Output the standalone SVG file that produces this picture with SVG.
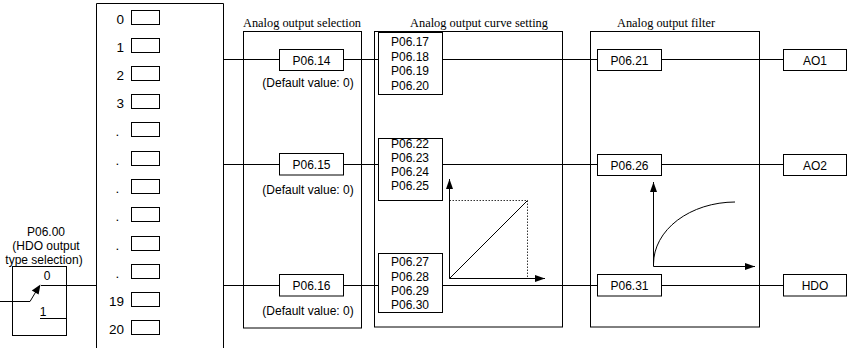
<svg xmlns="http://www.w3.org/2000/svg" width="848" height="348" viewBox="0 0 848 348">
<style>
.b{fill:#fff;stroke:#000;stroke-width:1}
.n{fill:none;stroke:#000;stroke-width:1}
.t{font-family:"Liberation Sans",Arial,sans-serif;font-size:12px;fill:#000}
.c{text-anchor:middle}
.d{font-family:"Liberation Sans",Arial,sans-serif;font-size:13.5px;fill:#000;text-anchor:end}
.dt{font-family:"Liberation Sans",Arial,sans-serif;font-size:13.5px;fill:#000}
.h{font-family:"Liberation Serif","Times New Roman",serif;font-size:12px;fill:#000}
.dot{fill:none;stroke:#000;stroke-width:0.8;stroke-dasharray:1.5 1.5}
</style>
<defs>
<marker id="arr" markerUnits="userSpaceOnUse" markerWidth="10" markerHeight="7" refX="10" refY="3.5" orient="auto">
<path d="M0,0 L10,3.5 L0,7 z" fill="#000"/>
</marker>
</defs>
<rect width="848" height="348" fill="#fff"/>

<g id="connectors">
<line class="n" x1="223" y1="59.5" x2="279" y2="59.5"/>
<line class="n" x1="343" y1="59.5" x2="378" y2="59.5"/>
<line class="n" x1="442" y1="59.5" x2="597" y2="59.5"/>
<line class="n" x1="661" y1="59.5" x2="783" y2="59.5"/>
<line class="n" x1="223" y1="164.5" x2="279" y2="164.5"/>
<line class="n" x1="343" y1="164.5" x2="378" y2="164.5"/>
<line class="n" x1="442" y1="164.5" x2="597" y2="164.5"/>
<line class="n" x1="661" y1="164.5" x2="783" y2="164.5"/>
<line class="n" x1="41" y1="285.5" x2="96" y2="285.5"/>
<line class="n" x1="223" y1="285.5" x2="279" y2="285.5"/>
<line class="n" x1="343" y1="285.5" x2="378" y2="285.5"/>
<line class="n" x1="442" y1="285.5" x2="597" y2="285.5"/>
<line class="n" x1="661" y1="285.5" x2="783" y2="285.5"/>
</g>

<g id="switch">
<text class="t c" x="46" y="235.5">P06.00</text>
<text class="t c" x="46" y="249.5">(HDO output</text>
<text class="t c" x="44" y="263.5">type selection)</text>
<rect class="n" x="12.5" y="266.5" width="54" height="69"/>
<text class="t c" x="47" y="279.5">0</text>
<text class="t c" x="43" y="315.5">1</text>
<line class="n" x1="40" y1="318.5" x2="67" y2="318.5"/>
<polyline class="n" points="0,301.5 30,301.5 36,291.5"/>
<polygon points="40.5,284.5 31.8,290.6 38.6,294.6" fill="#000"/>
</g>

<g id="source-list">
<path class="n" d="M96.5,348 V3.5 H223.5 V348"/>
<rect class="n" x="131.5" y="10.5" width="28" height="14"/>
<rect class="n" x="131.5" y="38.5" width="28" height="14"/>
<rect class="n" x="131.5" y="66.5" width="28" height="14"/>
<rect class="n" x="131.5" y="94.5" width="28" height="14"/>
<rect class="n" x="131.5" y="122.5" width="28" height="14"/>
<rect class="n" x="131.5" y="151.5" width="28" height="14"/>
<rect class="n" x="131.5" y="179.5" width="28" height="14"/>
<rect class="n" x="131.5" y="207.5" width="28" height="14"/>
<rect class="n" x="131.5" y="236.5" width="28" height="14"/>
<rect class="n" x="131.5" y="264.5" width="28" height="14"/>
<rect class="n" x="131.5" y="292.5" width="28" height="14"/>
<rect class="n" x="131.5" y="320.5" width="28" height="14"/>
<text class="d" x="124" y="23.5">0</text>
<text class="d" x="124" y="51.5">1</text>
<text class="d" x="124" y="79.5">2</text>
<text class="d" x="124" y="107.5">3</text>
<text class="dt" x="115.5" y="135.5">.</text>
<text class="dt" x="115.5" y="164.5">.</text>
<text class="dt" x="115.5" y="192.5">.</text>
<text class="dt" x="115.5" y="220.5">.</text>
<text class="dt" x="115.5" y="249.5">.</text>
<text class="dt" x="115.5" y="277.5">.</text>
<text class="d" x="124" y="305.5">19</text>
<text class="d" x="124" y="333.5">20</text>
</g>

<g id="selection">
<text class="h" x="243" y="27.3" textLength="118" lengthAdjust="spacingAndGlyphs">Analog output selection</text>
<rect class="n" x="243.5" y="31.5" width="118" height="296.5"/>
<rect class="b" x="279.5" y="49.5" width="64" height="21"/>
<text class="t c" x="311.5" y="64.5">P06.14</text>
<text class="t c" x="308" y="86.5">(Default value: 0)</text>
<rect class="b" x="279.5" y="153.5" width="64" height="21.5"/>
<text class="t c" x="311.5" y="168.5">P06.15</text>
<text class="t c" x="308" y="193.5">(Default value: 0)</text>
<rect class="b" x="279.5" y="274.5" width="64" height="21.5"/>
<text class="t c" x="311.5" y="289.5">P06.16</text>
<text class="t c" x="308" y="314.5">(Default value: 0)</text>
</g>

<g id="curve">
<text class="h" x="410" y="27.3" textLength="138" lengthAdjust="spacingAndGlyphs">Analog output curve setting</text>
<rect class="n" x="374.5" y="31.5" width="188" height="295.5"/>
<rect class="b" x="378.5" y="32.5" width="64" height="62"/>
<text class="t" x="391" y="46">P06.17</text>
<text class="t" x="391" y="60.5">P06.18</text>
<text class="t" x="391" y="75">P06.19</text>
<text class="t" x="391" y="89.5">P06.20</text>
<rect class="b" x="378.5" y="138.5" width="64" height="62"/>
<text class="t" x="391" y="147.5">P06.22</text>
<text class="t" x="391" y="161.5">P06.23</text>
<text class="t" x="391" y="175.5">P06.24</text>
<text class="t" x="391" y="190">P06.25</text>
<rect class="b" x="378.5" y="253.5" width="64" height="59"/>
<text class="t" x="391" y="266">P06.27</text>
<text class="t" x="391" y="280.5">P06.28</text>
<text class="t" x="391" y="295">P06.29</text>
<text class="t" x="391" y="309">P06.30</text>
<polyline class="dot" points="449.5,200.5 527.5,200.5 527.5,278"/>
<line class="n" x1="449.5" y1="278.5" x2="527.5" y2="200.5"/>
<line class="n" x1="449.5" y1="278.5" x2="449.5" y2="179" marker-end="url(#arr)"/>
<line class="n" x1="449.5" y1="278.5" x2="545" y2="278.5" marker-end="url(#arr)"/>
</g>

<g id="filter">
<text class="h" x="617" y="27.3" textLength="98" lengthAdjust="spacingAndGlyphs">Analog output filter</text>
<rect class="n" x="590.5" y="31.5" width="169" height="295.5"/>
<rect class="b" x="597.5" y="49.5" width="64" height="21"/>
<text class="t c" x="629.5" y="64.5">P06.21</text>
<rect class="b" x="597.5" y="154.5" width="64" height="21"/>
<text class="t c" x="629.5" y="169.5">P06.26</text>
<rect class="b" x="597.5" y="274.5" width="64" height="21.5"/>
<text class="t c" x="629.5" y="289.5">P06.31</text>
<path class="n" d="M653.5,264 A82,62 0 0 1 735,202"/>
<line class="n" x1="653.5" y1="266.5" x2="653.5" y2="182" marker-end="url(#arr)"/>
<line class="n" x1="653.5" y1="266.5" x2="755" y2="266.5" marker-end="url(#arr)"/>
</g>

<g id="out-ao1">
<rect class="b" x="783.5" y="49.5" width="63" height="21"/>
<text class="t c" x="815" y="64.5">AO1</text>
</g>
<g id="out-ao2">
<rect class="b" x="783.5" y="154.5" width="63" height="21"/>
<text class="t c" x="815" y="169.5">AO2</text>
</g>
<g id="out-hdo">
<rect class="b" x="783.5" y="274.5" width="63" height="21.5"/>
<text class="t c" x="815" y="289.5">HDO</text>
</g>
</svg>
